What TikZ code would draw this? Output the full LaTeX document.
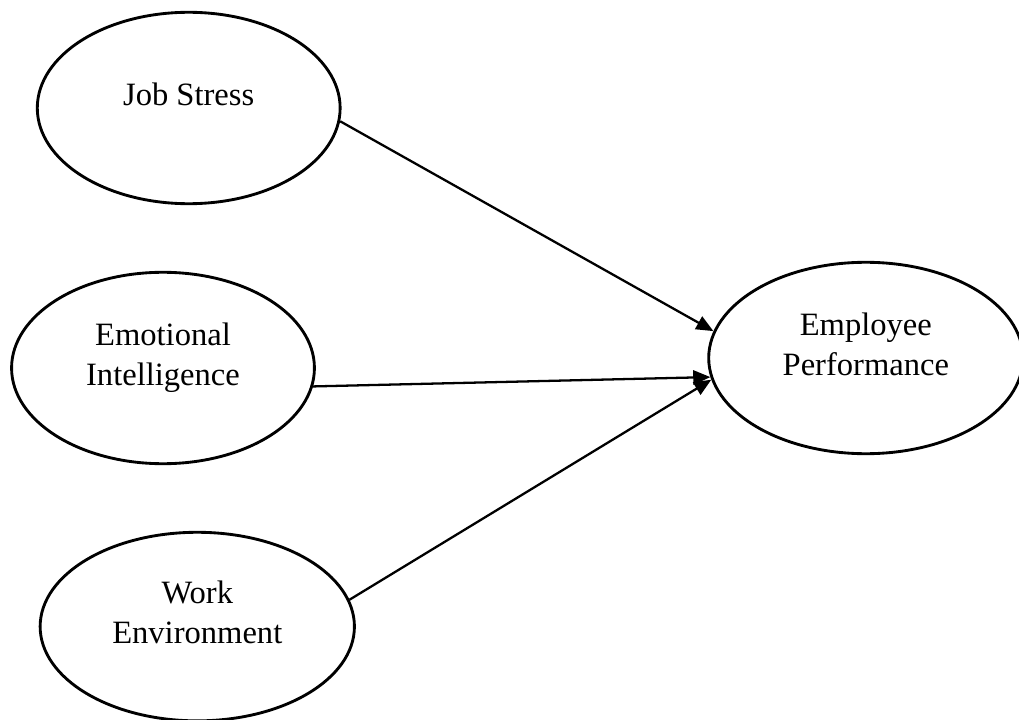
\documentclass[tikz,border=0pt]{standalone}
\usepackage{fontspec}
\setmainfont{Liberation Serif}
\usetikzlibrary{positioning,shapes.geometric,arrows.meta}

\begin{document}
\begin{tikzpicture}[
node distance=23pt,
construct/.style={ellipse, draw=black, line width=1pt, align=center, font=\fontsize{11.4pt}{14pt}\selectfont, minimum width=106pt, minimum height=67pt},
effect/.style={-{Triangle[length=6pt,width=5pt]}, line width=0.8pt}
]
\useasboundingbox (-57.05pt,-123.2pt) rectangle (299.6pt,128.8pt);

% trailing \\[-4pt] lifts the label a little above the centre
\node[construct](emo_int){Emotional\\Intelligence\\[-4pt]};

\node[construct](job_stress)[above=of emo_int,xshift=9pt]{Job Stress\\[-4pt]};
\node[construct,minimum width=110pt,minimum height=66pt](work_env)[below=of emo_int,xshift=12pt]{Work\\Environment\\[-4pt]};
\node[construct,minimum width=110pt](emp_perf)[right=137pt of emo_int,yshift=3.5pt]{Employee\\Performance\\[-4pt]};

\draw[effect] (job_stress.-5) -- (emp_perf.170);
\draw[effect] (emo_int.-7) -- (emp_perf.-173);
\draw[effect] (work_env.10) -- (emp_perf.-172);
\end{tikzpicture}
\end{document}
